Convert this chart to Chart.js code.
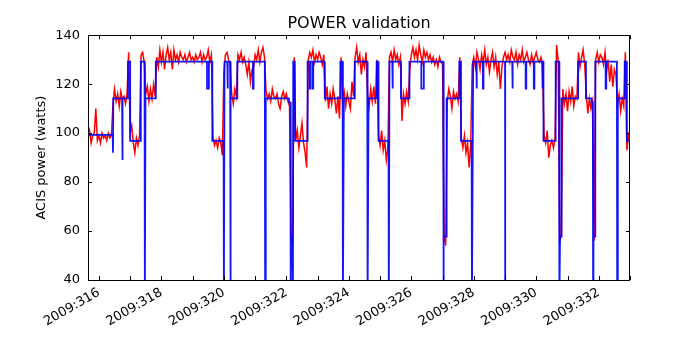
<!DOCTYPE html>
<html>
<head>
<meta charset="utf-8">
<script src="https://cdn.jsdelivr.net/npm/chart.js@4"></script>
<style>
  html, body { margin: 0; padding: 0; background: #fff; }
  #wrap { width: 700px; height: 350px; }
</style>
</head>
<body>
<div id="wrap"><canvas id="chart" width="700" height="350"></canvas></div>
<script>
// POWER validation - telemetry (red) vs. model (blue), ACIS power in watts

// x axis: day of year 2009
const dayMin = 315.65;
const dayMax = 333.0;
const labelDays = [316, 318, 320, 322, 324, 326, 328, 330, 332];
const yTicks = [40, 60, 80, 100, 120, 140];

// telemetry, sampled every 0.05 day starting at telemStart
const telemStart = 315.65;
const telemStep = 0.05;
const telemPower = [
  98, 101, 96, 99, 100, 110, 97, 99, 96, 100,
  98, 99, 97, 100, 98, 99, 112, 118, 113, 116,
  111, 117, 114, 115, 112, 116, 133, 100, 103, 96,
  92, 98, 95, 99, 132, 133, 129, 116, 119, 113,
  118, 114, 120, 115, 131, 127, 134, 129, 133, 126,
  132, 135, 130, 133, 126, 134, 130, 132, 129, 133,
  131, 130, 132, 129, 131, 133, 130, 131, 129, 132,
  130, 131, 133, 129, 132, 130, 131, 134, 129, 132,
  99, 95, 97, 94, 98, 96, 91, 125, 132, 133,
  130, 128, 116, 112, 118, 115, 132, 130, 133, 129,
  131, 128, 124, 129, 121, 126, 127, 132, 130, 134,
  129, 133, 135, 131, 117, 114, 116, 113, 118, 115,
  114, 116, 112, 110, 115, 117, 114, 116, 113, 111,
  58, 56, 131, 97, 101, 94, 99, 104, 96, 92,
  86, 130, 133, 131, 134, 129, 132, 130, 133, 131,
  128, 132, 113, 119, 110, 116, 112, 118, 114, 108,
  115, 106, 131, 114, 117, 111, 116, 113, 110, 121,
  115, 131, 135, 129, 132, 124, 130, 127, 133, 116,
  111, 118, 113, 119, 112, 130, 99, 95, 101, 93,
  97, 89, 94, 131, 133, 129, 134, 130, 132, 128,
  131, 105, 116, 112, 117, 113, 126, 132, 135, 131,
  134, 130, 136, 132, 129, 134, 131, 133, 130, 132,
  129, 131, 128, 130, 127, 131, 129, 128, 58, 54,
  113, 118, 115, 110, 117, 114, 116, 113, 131, 98,
  94, 99, 92, 96, 86, 95, 128, 131, 127, 133,
  130, 126, 132, 129, 134, 128, 131, 125, 130, 133,
  127, 131, 124, 129, 118, 127, 131, 133, 130, 132,
  129, 134, 131, 130, 133, 128, 132, 130, 134, 129,
  131, 133, 130, 128, 132, 129, 131, 133, 130, 129,
  131, 128, 99, 96, 101, 90, 95, 97, 94, 98,
  136, 130, 56, 58, 118, 112, 116, 109, 117, 113,
  119, 111, 115, 114, 133, 127, 131, 134, 128, 116,
  108, 114, 110, 113, 56, 130, 133, 129, 132, 131,
  128, 133, 125, 130, 121, 128, 119, 126, 124, 112,
  116, 109, 114, 111, 133, 93, 99, 96
];

// model step curve (values below 40 are off the bottom of the plot)
const modelDays = [
  315.65, 316.44, 316.45, 316.46, 316.74, 316.75, 316.76, 316.92, 316.93, 317.00,
  317.00, 317.33, 317.34, 317.46, 317.47, 317.49, 317.82, 317.82, 319.46, 319.46,
  319.52, 319.52, 319.63, 319.63, 319.99, 320.00, 320.02, 320.11, 320.11, 320.13,
  320.13, 320.20, 320.21, 320.22, 320.42, 320.43, 320.93, 320.93, 320.95, 320.95,
  321.31, 321.32, 321.34, 322.08, 322.09, 322.13, 322.14, 322.15, 322.20, 322.21,
  322.22, 322.27, 322.28, 322.67, 322.68, 322.75, 322.75, 322.77, 322.77, 322.84,
  322.84, 322.86, 322.86, 323.22, 323.23, 323.72, 323.73, 323.80, 323.81, 323.84,
  324.18, 324.19, 324.59, 324.60, 324.63, 324.88, 324.89, 324.94, 324.95, 325.27,
  325.28, 325.30, 325.39, 325.39, 325.41, 325.41, 325.67, 325.67, 325.94, 325.94,
  326.32, 326.32, 326.40, 326.40, 327.02, 327.03, 327.04, 327.12, 327.13, 327.54,
  327.54, 327.59, 327.59, 327.93, 327.94, 327.98, 328.08, 328.08, 328.10, 328.10,
  328.29, 328.29, 328.31, 328.31, 329.00, 329.00, 329.01, 329.23, 329.23, 329.25,
  329.25, 329.66, 329.66, 329.68, 329.68, 329.92, 329.92, 329.94, 329.94, 330.19,
  330.19, 330.21, 330.21, 330.23, 330.23, 330.62, 330.62, 330.73, 330.74, 330.76,
  330.80, 330.81, 331.34, 331.34, 331.59, 331.59, 331.77, 331.77, 331.81, 331.82,
  331.83, 331.88, 331.89, 332.22, 332.22, 332.24, 332.24, 332.58, 332.59, 332.61,
  332.83, 332.83, 332.89, 332.90, 333.00
];
const modelPower = [
  99.3, 99.3, 92, 114.2, 114.2, 89, 114.2, 114.2, 129.2, 129.2,
  96.8, 96.8, 129.2, 129.2, 30, 114.2, 114.2, 129.2, 129.2, 118.2,
  118.2, 129.2, 129.2, 96.8, 96.8, 30, 129.2, 129.2, 118.2, 118.2,
  129.2, 129.2, 30, 114.2, 114.2, 129.2, 129.2, 118.2, 118.2, 129.2,
  129.2, 30, 114.2, 114.2, 112.5, 112.5, 30, 57.7, 57.7, 30,
  129.2, 129.2, 96.8, 96.8, 129.2, 129.2, 118.2, 118.2, 129.2, 129.2,
  118.2, 118.2, 129.2, 129.2, 114.2, 114.2, 129.2, 129.2, 30, 114.2,
  114.2, 129.2, 129.2, 30, 114.2, 114.2, 129.2, 129.2, 96.8, 96.8,
  30, 129.2, 129.2, 118.2, 118.2, 129.2, 129.2, 114.2, 114.2, 129.2,
  129.2, 118.2, 118.2, 129.2, 129.2, 30, 57.7, 57.7, 114.2, 114.2,
  129.2, 129.2, 96.8, 96.8, 30, 129.2, 129.2, 118.2, 118.2, 129.2,
  129.2, 118.2, 118.2, 129.2, 129.2, 30, 129.2, 129.2, 118.2, 118.2,
  129.2, 129.2, 118.2, 118.2, 129.2, 129.2, 118.2, 118.2, 129.2, 129.2,
  118.2, 118.2, 129.2, 129.2, 96.8, 96.8, 129.2, 129.2, 30, 57.7,
  57.7, 114.2, 114.2, 129.2, 129.2, 114.2, 114.2, 112.5, 112.5, 30,
  57.7, 57.7, 129.2, 129.2, 118.2, 118.2, 129.2, 129.2, 30, 114.2,
  114.2, 129.2, 129.2, 96.8, 96.8
];

const telemData = telemPower.map((v, i) => ({ x: telemStart + i * telemStep, y: v }));
const modelData = modelDays.map((d, i) => ({ x: d, y: modelPower[i] }));

// matplotlib style frame with inward ticks
const frameTicks = {
  id: 'frameTicks',
  afterDatasetsDraw(chart) {
    const { ctx, chartArea: a, scales: { x, y } } = chart;
    ctx.save();
    ctx.strokeStyle = '#000';
    ctx.lineWidth = 1;
    ctx.beginPath();
    for (let d = Math.ceil(dayMin); d <= dayMax; d++) {
      const px = Math.round(x.getPixelForValue(d)) + 0.5;
      ctx.moveTo(px, a.bottom); ctx.lineTo(px, a.bottom - 4);
      ctx.moveTo(px, a.top); ctx.lineTo(px, a.top + 4);
    }
    yTicks.forEach(v => {
      const py = Math.round(y.getPixelForValue(v)) + 0.5;
      ctx.moveTo(a.left, py); ctx.lineTo(a.left + 4, py);
      ctx.moveTo(a.right, py); ctx.lineTo(a.right - 4, py);
    });
    ctx.stroke();
    ctx.strokeRect(Math.round(a.left) + 0.5, Math.round(a.top) + 0.5,
      Math.round(a.right - a.left) - 1, Math.round(a.bottom - a.top));
    ctx.restore();
  }
};

Chart.defaults.font.family = 'DejaVu Sans';
Chart.defaults.color = '#000';

new Chart(document.getElementById('chart'), {
  type: 'line',
  data: {
    datasets: [{
      label: 'telemetry',
      data: telemData,
      borderColor: '#ff0000',
      borderWidth: 1.5,
      pointRadius: 0,
      tension: 0,
      order: 2
    }, {
      label: 'model',
      data: modelData,
      borderColor: 'rgba(0, 0, 255, 0.92)',
      borderWidth: 1.8,
      pointRadius: 0,
      tension: 0,
      order: 1
    }]
  },
  options: {
    responsive: false,
    animation: false,
    devicePixelRatio: 1,
    layout: { padding: { top: 0, right: 0, bottom: 0, left: 18 } },
    plugins: {
      legend: { display: false },
      tooltip: { enabled: false },
      title: {
        display: true,
        text: 'POWER validation',
        font: { size: 16, weight: 'normal' },
        color: '#000',
        padding: { top: 14, bottom: 2 }
      }
    },
    scales: {
      x: {
        type: 'linear',
        min: dayMin,
        max: dayMax,
        grid: { display: false, drawTicks: false },
        border: { display: false },
        afterBuildTicks: scale => { scale.ticks = labelDays.map(v => ({ value: v })); },
        afterFit: scale => { scale.height = 70; },
        ticks: {
          autoSkip: false,
          minRotation: 30,
          maxRotation: 30,
          padding: 5,
          font: { size: 13 },
          callback: v => '2009:' + v
        }
      },
      y: {
        min: 40,
        max: 140,
        grid: { display: false, drawTicks: false },
        border: { display: false },
        afterBuildTicks: scale => { scale.ticks = yTicks.map(v => ({ value: v })); },
        afterFit: scale => { scale.width = 70; },
        ticks: { padding: 8, font: { size: 13 } },
        title: {
          display: true,
          text: 'ACIS power (watts)',
          font: { size: 13 },
          padding: { top: 16, bottom: 0 }
        }
      },
      // empty right-hand axis that keeps the plot's right margin
      yRight: {
        position: 'right',
        min: 40,
        max: 140,
        grid: { display: false, drawTicks: false },
        border: { display: false },
        ticks: { display: false },
        afterFit: scale => { scale.width = 70; }
      }
    }
  },
  plugins: [frameTicks]
});
</script>
</body>
</html>
